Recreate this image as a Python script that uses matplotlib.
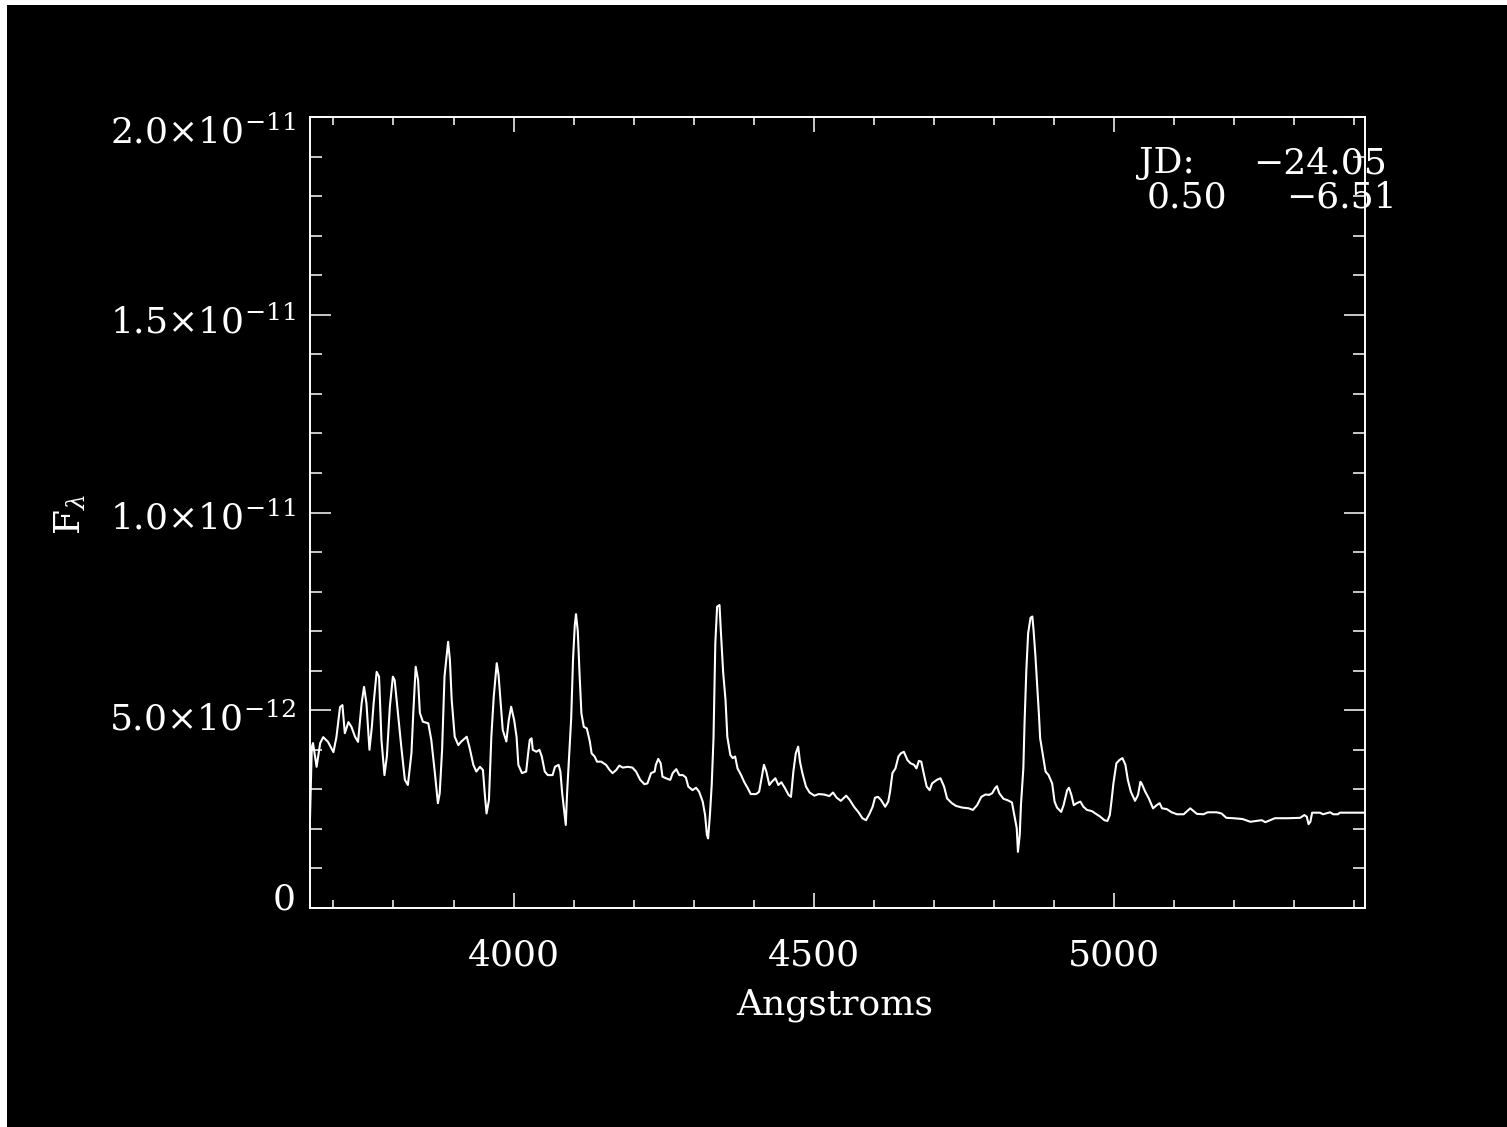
import matplotlib
matplotlib.use("Agg")
import matplotlib.pyplot as plt
from matplotlib.patches import Rectangle
from matplotlib.transforms import ScaledTranslation
from matplotlib.ticker import FixedLocator, FixedFormatter, MultipleLocator

# Spectrum: wavelength in Angstroms, flux in units of 1e-12
wavelength = [
    3661, 3664, 3666, 3672, 3678, 3683, 3691, 3700, 3705, 3711, 3715, 3719, 3725, 3730,
    3736, 3741, 3747, 3751, 3755, 3760, 3764, 3767, 3772, 3776, 3780, 3785, 3789, 3794,
    3799, 3802, 3808, 3813, 3819, 3824, 3830, 3833, 3837, 3841, 3844, 3849, 3858, 3863,
    3869, 3874, 3877, 3881, 3885, 3891, 3894, 3897, 3902, 3908, 3913, 3922, 3927, 3933,
    3938, 3944, 3949, 3952, 3955, 3959, 3963, 3967, 3972, 3975, 3979, 3982, 3988, 3992,
    3996, 4001, 4005, 4008, 4014, 4021, 4024, 4027, 4030, 4032, 4038, 4043, 4047, 4052,
    4057, 4065, 4069, 4075, 4078, 4081, 4085, 4087, 4089, 4092, 4096, 4099, 4102, 4104,
    4107, 4110, 4113, 4117, 4122, 4127, 4130, 4135, 4139, 4146, 4154, 4160, 4165, 4171,
    4176, 4182, 4190, 4198, 4204, 4211, 4218, 4223, 4229, 4235, 4237, 4241, 4245, 4248,
    4254, 4261, 4265, 4271, 4276, 4282, 4287, 4291, 4298, 4304, 4309, 4315, 4319, 4322,
    4324, 4327, 4330, 4333, 4336, 4339, 4343, 4345, 4349, 4353, 4356, 4361, 4365, 4369,
    4373, 4379, 4384, 4390, 4395, 4404, 4409, 4414, 4417, 4421, 4426, 4430, 4436, 4441,
    4446, 4452, 4458, 4462, 4466, 4470, 4474, 4477, 4481, 4487, 4493, 4501, 4508, 4517,
    4526, 4532, 4538, 4545, 4554, 4560, 4567, 4574, 4581, 4587, 4593, 4598, 4602, 4607,
    4612, 4619, 4624, 4627, 4631, 4636, 4641, 4645, 4650, 4656, 4661, 4667, 4671, 4675,
    4679, 4683, 4688, 4693, 4697, 4705, 4711, 4717, 4722, 4730, 4737, 4747, 4758, 4765,
    4772, 4779, 4786, 4792, 4797, 4802, 4805, 4809, 4816, 4822, 4830, 4834, 4838, 4840,
    4843, 4845, 4849, 4851, 4854, 4857, 4861, 4864, 4866, 4869, 4872, 4875, 4877, 4882,
    4886, 4891, 4897, 4901, 4905, 4912, 4916, 4922, 4925, 4929, 4933, 4938, 4944, 4949,
    4955, 4963, 4969, 4977, 4984, 4989, 4993, 4996, 4999, 5004, 5009, 5014, 5019, 5023,
    5028, 5035, 5040, 5044, 5046, 5052, 5058, 5065, 5071, 5076, 5080, 5088, 5096, 5105,
    5116, 5127, 5138, 5149, 5156, 5171, 5179, 5187, 5199, 5214, 5227, 5246, 5252, 5268,
    5290, 5310, 5317, 5321, 5324, 5327, 5330, 5343, 5348, 5360, 5365, 5373, 5376, 5417,
]
flux = [
    2.28, 4.07, 4.17, 3.57, 4.17, 4.32, 4.20, 3.94, 4.32, 5.08, 5.13, 4.42, 4.70, 4.58,
    4.33, 4.20, 5.18, 5.59, 5.18, 4.00, 4.58, 5.18, 5.97, 5.85, 4.25, 3.36, 3.83, 5.09,
    5.85, 5.76, 4.84, 4.08, 3.24, 3.11, 3.92, 4.93, 6.10, 5.76, 4.93, 4.71, 4.67, 4.25,
    3.41, 2.65, 2.90, 4.00, 5.85, 6.73, 6.27, 5.26, 4.33, 4.12, 4.21, 4.33, 4.04, 3.62,
    3.45, 3.57, 3.49, 2.90, 2.39, 2.73, 4.33, 5.34, 6.19, 5.89, 5.09, 4.50, 4.21, 4.75,
    5.09, 4.75, 4.33, 3.62, 3.41, 3.45, 3.87, 4.25, 4.29, 4.00, 3.95, 4.00, 3.83, 3.45,
    3.36, 3.36, 3.57, 3.62, 3.45, 2.90, 2.35, 2.10, 2.86, 3.70, 4.80, 6.27, 7.16, 7.43,
    6.99, 5.89, 4.92, 4.58, 4.54, 4.21, 3.91, 3.83, 3.70, 3.70, 3.62, 3.49, 3.41, 3.49,
    3.60, 3.55, 3.57, 3.55, 3.45, 3.24, 3.13, 3.15, 3.41, 3.45, 3.62, 3.77, 3.66, 3.32,
    3.28, 3.24, 3.41, 3.51, 3.36, 3.36, 3.30, 3.07, 2.98, 3.04, 2.94, 2.69, 2.35, 1.85,
    1.76, 2.35, 3.11, 4.29, 6.69, 7.62, 7.66, 7.07, 5.97, 5.26, 4.33, 3.87, 3.79, 3.83,
    3.53, 3.36, 3.19, 3.03, 2.88, 2.88, 2.94, 3.36, 3.62, 3.45, 3.11, 3.19, 3.28, 3.11,
    3.18, 3.03, 2.86, 2.81, 3.45, 3.91, 4.08, 3.70, 3.41, 3.07, 2.92, 2.84, 2.88, 2.87,
    2.83, 2.92, 2.79, 2.71, 2.84, 2.73, 2.56, 2.43, 2.27, 2.22, 2.39, 2.56, 2.79, 2.81,
    2.73, 2.56, 2.69, 2.94, 3.41, 3.53, 3.83, 3.91, 3.95, 3.74, 3.66, 3.62, 3.53, 3.72,
    3.70, 3.41, 3.07, 2.98, 3.15, 3.24, 3.28, 3.07, 2.77, 2.65, 2.58, 2.54, 2.52, 2.48,
    2.60, 2.81, 2.87, 2.86, 2.90, 3.03, 3.08, 2.90, 2.76, 2.73, 2.67, 2.35, 2.02, 1.42,
    1.85, 2.60, 3.53, 4.67, 6.02, 6.95, 7.34, 7.37, 7.03, 6.40, 5.64, 4.88, 4.29, 3.83,
    3.45, 3.36, 3.15, 2.69, 2.54, 2.43, 2.60, 2.98, 3.04, 2.86, 2.60, 2.65, 2.69, 2.56,
    2.48, 2.45, 2.39, 2.31, 2.22, 2.20, 2.35, 2.73, 3.15, 3.66, 3.74, 3.79, 3.62, 3.24,
    2.94, 2.71, 2.86, 3.19, 3.15, 2.94, 2.77, 2.52, 2.60, 2.65, 2.52, 2.50, 2.42, 2.37,
    2.37, 2.52, 2.38, 2.37, 2.42, 2.42, 2.39, 2.28, 2.27, 2.25, 2.18, 2.22, 2.17, 2.27,
    2.27, 2.28, 2.35, 2.31, 2.12, 2.18, 2.41, 2.41, 2.37, 2.42, 2.37, 2.37, 2.41, 2.41,
]
flux_scale = 1e-12

x_range = (3661, 5418)
y_range = (0, 2e-11)
x_major = [4000, 4500, 5000]
x_labels = ["4000", "4500", "5000"]
y_major = [0, 5e-12, 1e-11, 1.5e-11, 2e-11]
y_labels = ["0", r"5.0$\times10^{-12}$", r"1.0$\times10^{-11}$",
            r"1.5$\times10^{-11}$", r"2.0$\times10^{-11}$"]
jd_label = "JD:"
jd_value = "\u221224.05"
phase_value = "0.50"
mag_value = "\u22126.51"

plt.rcParams["font.family"] = ["DejaVu Serif"]
plt.rcParams["mathtext.fontset"] = "dejavuserif"

W, H, DPI = 1507, 1127, 100
fig = plt.figure(figsize=(W / DPI, H / DPI), dpi=DPI, facecolor="white")
fig.patches.append(Rectangle((7 / W, 0), 1 - 7 / W, 1 - 5 / H, transform=fig.transFigure,
                             facecolor="black", edgecolor="none", zorder=-10))

ax = fig.add_axes([310 / W, 1 - 908 / H, 1055 / W, 791 / H])
ax.set_facecolor("black")

ax.plot(wavelength, [f * flux_scale for f in flux], color="white", lw=1.5)

ax.set_xlim(*x_range)
ax.set_ylim(*y_range)

fs = 26
ax.xaxis.set_major_locator(FixedLocator(x_major))
ax.xaxis.set_major_formatter(FixedFormatter(x_labels))
ax.xaxis.set_minor_locator(MultipleLocator(100))
ax.yaxis.set_major_locator(FixedLocator(y_major))
ax.yaxis.set_major_formatter(FixedFormatter(y_labels))
ax.yaxis.set_minor_locator(MultipleLocator(1e-12))

for s in ax.spines.values():
    s.set_color("white")
    s.set_linewidth(1.4)

ax.tick_params(axis="both", which="both", direction="in", colors="white",
               top=True, right=True, width=1.1, labelsize=fs)
ax.tick_params(axis="x", which="major", length=11, pad=22)
ax.tick_params(axis="x", which="minor", length=5.8)
ax.tick_params(axis="y", which="major", length=15, pad=10)
ax.tick_params(axis="y", which="minor", length=8.6)

ax.set_xlabel("Angstroms", color="white", fontsize=fs)
ax.xaxis.set_label_coords(0.4976, -0.101)
ax.set_ylabel(r"F$_\lambda$", color="white", fontsize=fs)
ax.yaxis.set_label_coords(-0.210, 0.497)

txt = dict(color="white", fontsize=fs, transform=ax.transAxes, clip_on=False)
ax.text(0.7858, 0.9292, jd_label, ha="left", va="baseline", **txt)
ax.text(1.0209, 0.9292, jd_value, ha="right", va="baseline", **txt)
ax.text(0.7934, 0.8850, phase_value, ha="left", va="baseline", **txt)
ax.text(1.0303, 0.8850, mag_value, ha="right", va="baseline", **txt)

# Nudge the y tick labels vertically (pixels, downward positive)
fig.canvas.draw()
label_shift_px = [-12, 6, 3, 5, 12]
for lab, dy in zip(ax.get_yticklabels(), label_shift_px):
    lab.set_transform(lab.get_transform() + ScaledTranslation(0, -dy / DPI, fig.dpi_scale_trans))

fig.savefig("out.png", dpi=DPI, facecolor=fig.get_facecolor())
